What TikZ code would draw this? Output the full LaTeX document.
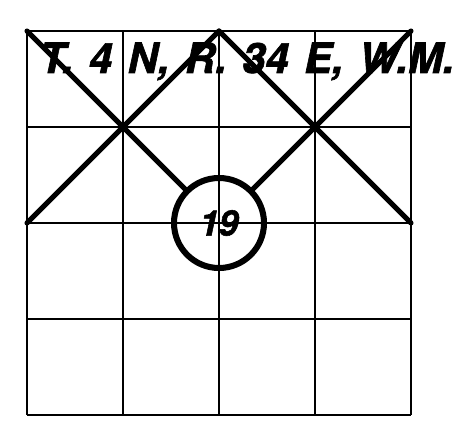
\documentclass[tikz,border=0pt]{standalone}
\usepackage{fontspec}
\setmainfont{TeX Gyre Heros}[BoldItalicFeatures={FakeBold=1.5}]
\usepackage{tikz}

\begin{document}
\begin{tikzpicture}
\useasboundingbox (-0.675,-0.125) rectangle (10.825,10.375);
% section grid
\draw[line width=1.4pt, step=2.4] (0,0) grid (9.6,9.6);
\coordinate (nw) at (0,9.6);
\coordinate (ne) at (9.6,9.6);
\coordinate (n) at (4.8,9.6);
\coordinate (w) at (0,4.8);
\coordinate (e) at (9.6,4.8);
\node[draw, circle, line width=4.3pt, minimum size=2.25cm, inner sep=0pt,
  font=\bfseries\itshape\fontsize{25}{25}\selectfont] (sec) at (4.8,4.8) {19};
\draw[line width=3.6pt, line cap=round] (nw) -- (sec);
\draw[line width=3.6pt, line cap=round] (ne) -- (sec);
\draw[line width=3.6pt, line cap=round] (n) -- (w);
\draw[line width=3.6pt, line cap=round] (n) -- (e);
\node[font=\bfseries\itshape\fontsize{29.7}{30}\selectfont, anchor=base,
  inner sep=0pt] (twp) at (5.5,8.55)
  {\spaceskip=0.37em T. 4 N, R. 34 E, W.M.};
\end{tikzpicture}
\end{document}
